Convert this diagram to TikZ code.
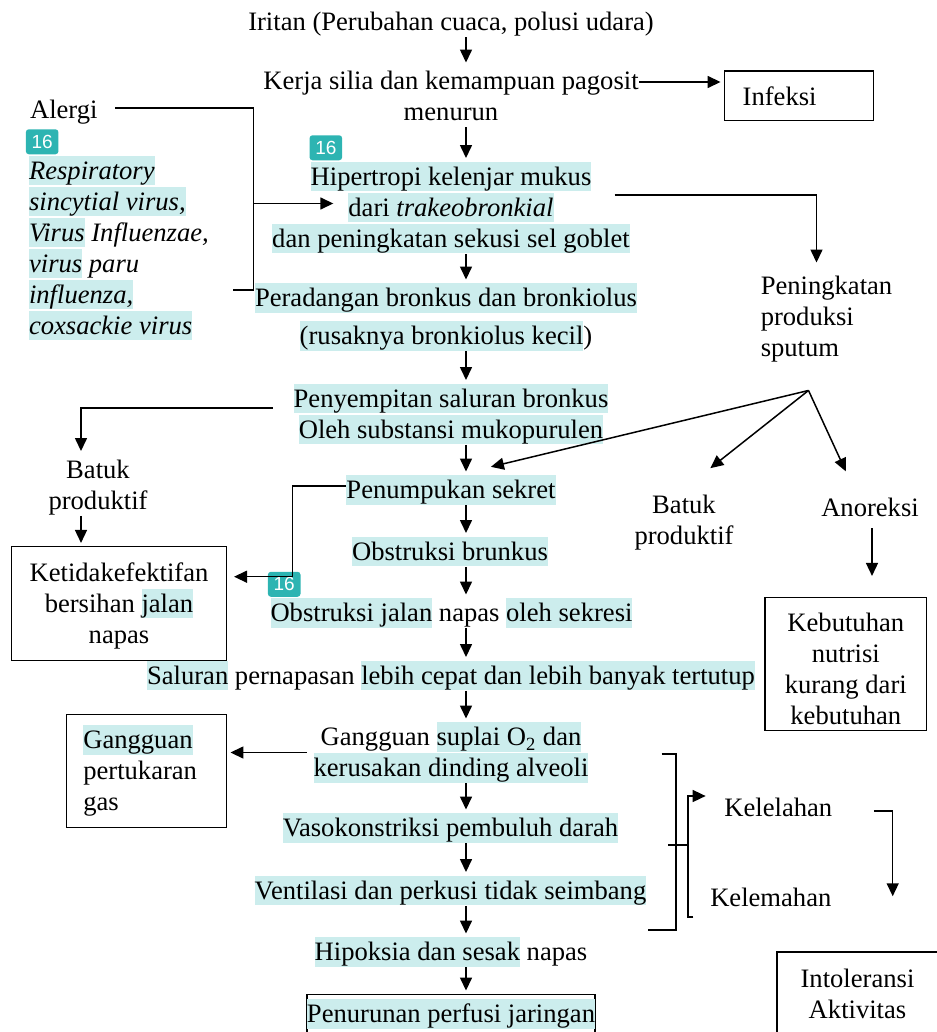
\documentclass[tikz,border=0pt]{standalone}
\usepackage{fontspec}
\setmainfont{Liberation Serif}
\newfontfamily\badgefont{Liberation Sans}
\usepackage{xcolor}
\usetikzlibrary{arrows.meta, positioning, calc}
\definecolor{hlcyan}{RGB}{204,237,237}
\definecolor{badgeteal}{RGB}{45,180,178}
\newcommand{\hs}{\rule[-0.216em]{0pt}{1.107em}}
\newcommand{\hlt}[1]{{\setlength{\fboxsep}{0pt}\colorbox{hlcyan}{\hs#1}}}

\begin{document}
\begin{tikzpicture}[x=0.5pt, y=-0.5pt, line width=0.75pt,
    every node/.style={font=\fontsize{13.3}{15.5}\selectfont, inner sep=0pt},
    txt/.style={align=center},
    lefttxt/.style={align=left, anchor=west},
    box/.style={draw},
    badge/.style={fill=badgeteal, rounded corners=1.5pt, text=white,
                  minimum width=16.3pt, minimum height=12.5pt,
                  font=\badgefont\fontsize{9.5}{10}\selectfont, anchor=south west},
    arr/.style={-{Triangle[length=6.5pt,width=6pt]}, shorten >=1.5pt}
  ]
  \useasboundingbox (0,0) rectangle (936,1032);
  \coordinate (spine) at (466,0);

  \node[txt] (irit) at (451,22) {\hs Iritan (Perubahan cuaca, polusi udara)};
  \node[txt] (kerja) at (451,96.5) {\hs Kerja silia dan kemampuan pagosit\\\hs menurun};
  \node[box, minimum width=74.5pt, minimum height=24.85pt, text width=56.1pt,
        inner xsep=9.2pt, align=left] (infeksi) at (798.8,95.8) {Infeksi};
  \node[txt] (hiper) at (451,207.5) {\hlt{Hipertropi kelenjar mukus}\\\hlt{dari \textit{trakeobronkial}}\\\hlt{dan peningkatan sekusi sel goblet}};
  \node[badge] (b2) at ([xshift=18.65pt]hiper.north west) {16};
  \node[lefttxt] (sput) at (760,317) {\hs Peningkatan\\\hs produksi\\\hs sputum};

  \node[lefttxt] (alergi) at (29.3,110) {\hs Alergi};
  \node[lefttxt] (virus) at (28.3,248) {\hlt{\textit{Respiratory}}\\
    \hlt{\textit{sincytial virus,}}\\
    \hlt{\textit{Virus}} \textit{Influenzae,}\\
    \hlt{\textit{virus}} \textit{paru}\\
    \hlt{\textit{influenza,}}\\
    \hlt{\textit{coxsackie virus}}};
  \node[badge] (b1) at ([xshift=-1.6pt]virus.north west) {16};

  \node[txt] (perad) at (446,317) {\hlt{Peradangan bronkus dan bronkiolus}\\[3.5pt]\hlt{(rusaknya bronkiolus kecil})};
  \node[txt] (penye) at (451,414) {\hlt{Penyempitan saluran bronkus}\\\hlt{Oleh substansi mukopurulen}};
  \node[txt] (batuk1) at (98,485) {\hs Batuk\\\hs produktif};
  \node[box, txt, minimum width=107.3pt, minimum height=57pt] (ketid) at (119,603.7)
    {\hs Ketidakefektifan\\\hs bersihan \hlt{jalan}\\\hs napas};
  \node[txt] (penum) at (451,490) {\hlt{Penumpukan sekret}};
  \node[txt] (batuk2) at (684,520) {\hs Batuk\\\hs produktif};
  \node[txt] (anor) at (870,507.7) {\hs Anoreksi};
  \node[box, minimum width=80.85pt, minimum height=66.5pt] (kebutbox) at (845.8,664.2) {};
  \node[txt] (kebut) at ([yshift=-2.65pt]kebutbox.center) {\hs Kebutuhan\\\hs nutrisi\\\hs kurang dari\\\hs kebutuhan};

  \node[txt] (obsb) at (450,551.5) {\hlt{Obstruksi brunkus}};
  \node[txt] (obsj) at (451.5,613) {\hlt{Obstruksi jalan} napas \hlt{oleh sekresi}};
  \node[badge] (b3) at ([xshift=-1.3pt]obsj.north west) {16};
  \node[txt] (salur) at (451,675.5) {\hlt{Saluran} pernapasan \hlt{lebih cepat dan lebih banyak tertutup}};
  \node[txt] (gang) at (451,752.5) {\hs Gangguan \hlt{suplai O\textsubscript{2} dan}\\\hlt{kerusakan dinding alveoli}};
  \node[box, minimum width=80pt, minimum height=56.7pt, text width=63.4pt,
        inner xsep=8.3pt, align=left] (gpt) at (146.7,771) {\hlt{Gangguan}\\\hs pertukaran\\\hs gas};
  \node[txt] (vaso) at (450.5,828) {\hlt{Vasokonstriksi pembuluh darah}};
  \node[txt] (vent) at (450.5,890.5) {\hlt{Ventilasi dan perkusi tidak seimbang}};
  \node[txt] (hipok) at (451,952) {\hlt{Hipoksia dan sesak} napas};
  \node[box, inner xsep=0pt, inner ysep=2.5pt] (penur) at (451,1014) {\hlt{Penurunan perfusi jaringan}};

  \node[txt] (lelah) at (778.3,807.7) {\hs Kelelahan};
  \node[txt] (lemah) at (770.8,897.7) {\hs Kelemahan};
  \node[box, txt, minimum width=80.5pt, minimum height=42pt] (intol) at (857.5,994) {\hs Intoleransi\\\hs Aktivitas};

  \foreach \a/\b in {irit/kerja, kerja/hiper, hiper/perad, perad/penye, penye/penum,
                     penum/obsb, obsb/obsj, obsj/salur, salur/gang, gang/vaso,
                     vaso/vent, vent/hipok, hipok/penur}
    \draw[arr] (\a.south -| spine) -- (\b.north -| spine);

  \draw[arr] ([yshift=7.25pt]kerja.east) -- ([yshift=7.25pt]kerja.east -| infeksi.west);
  \draw[arr, shorten >=4pt] ([xshift=-8pt,yshift=6.25pt]hiper.east) -| ([xshift=-5pt]sput.north);

  \coordinate (alv) at (253.3,290);
  \coordinate (alh) at (253.3,203.5);
  \draw ([xshift=8.5pt,yshift=1pt]alergi.east) -| (alv) -- ++(-10pt,0);
  \draw[arr] (alh) -- ++(41.5pt,0);

  \draw[arr] ([xshift=-10pt,yshift=3pt]penye.west) -| ([xshift=-8.5pt]batuk1.north);
  \draw[arr] ([xshift=-8.5pt]batuk1.south) -- ([xshift=-8.5pt]batuk1.south |- ketid.north);
  \coordinate (pk) at (292.7,486);
  \draw[arr] ([yshift=2pt]penum.west) -- (pk) |- ([xshift=2pt,yshift=13.5pt]ketid.east);
  \draw[arr] ([xshift=-3pt]gang.west) -- (gang.west -| gpt.east);

  \coordinate (fan) at ([xshift=-9pt,yshift=-13.5pt]sput.south);
  \draw[arr] (fan) -- ([xshift=18.5pt,yshift=3.5pt]penum.north);
  \draw[arr] (fan) -- ([xshift=12pt,yshift=9.5pt]batuk2.north);
  \draw[arr] (fan) -- ([xshift=-11.5pt,yshift=9.1pt]anor.north);
  \draw[arr, shorten >=10.5pt] ([xshift=1pt,yshift=-2.5pt]anor.south) -- ([xshift=1pt]anor.south |- kebutbox.north);

  \draw (661.7,754) -- (676,754) -- (676,930) -- (648,930);
  \draw (668,845) -- (688,845);
  \draw[arr] (693.3,917) -- (688,917) |- ([xshift=-7.5pt,yshift=5.85pt]lelah.west);
  \draw[arr] ([xshift=20.5pt,yshift=-1.65pt]lelah.east) -| ([xshift=17.6pt,yshift=26pt]intol.north);
\end{tikzpicture}
\end{document}
